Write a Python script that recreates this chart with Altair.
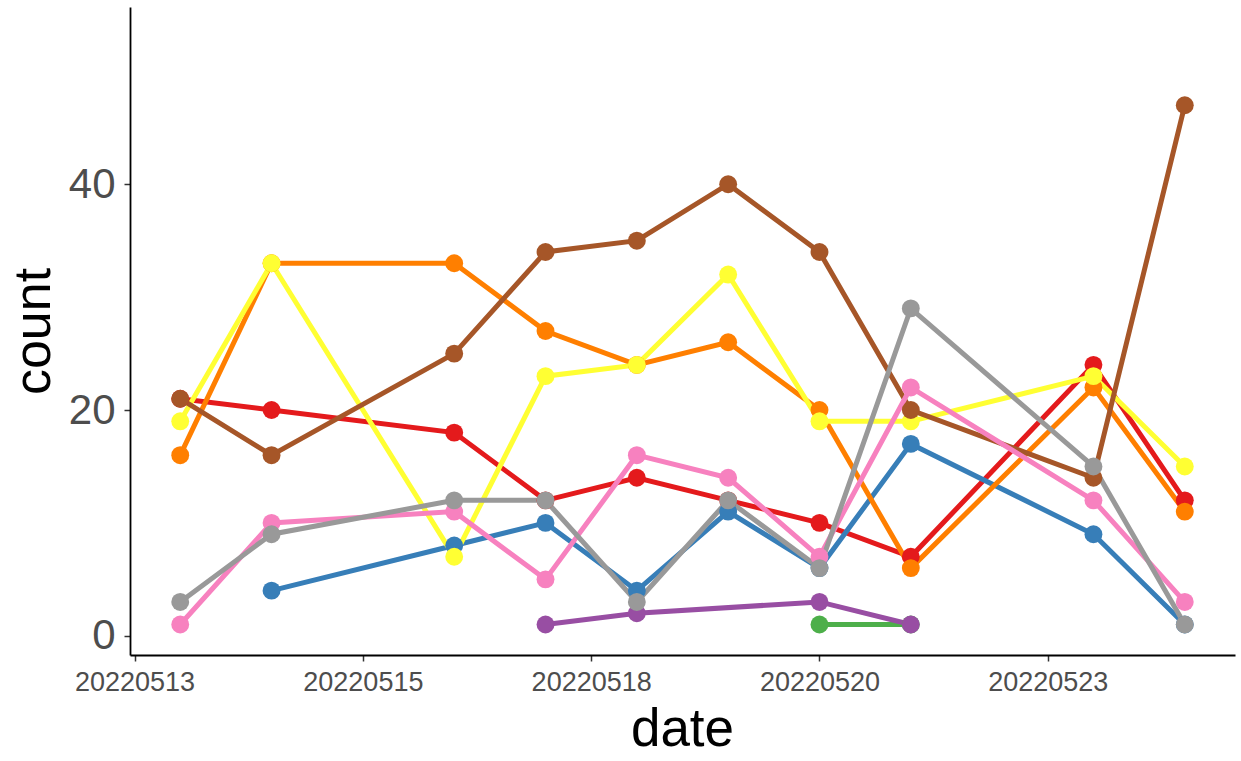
import altair as alt
import pandas as pd

# Dates are stored as plain yyyymmdd numbers and plotted on a linear axis
dates = [20220513, 20220514, 20220516, 20220517, 20220518,
         20220519, 20220520, 20220521, 20220523, 20220524]

groups = ["A", "B", "C", "D", "E", "F", "G", "H", "I"]
colors = ["#E41A1C", "#377EB8", "#4DAF4A", "#984EA3", "#FF7F00",
          "#FFFF33", "#A65628", "#F781BF", "#999999"]

counts_a = [21, 20, 18, 12, 14, 12, 10, 7, 24, 12]
counts_b = [None, 4, 8, 10, 4, 11, 6, 17, 9, 1]
counts_c = [None, None, None, None, None, None, 1, 1, None, None]
counts_d = [None, None, None, 1, 2, None, 3, 1, None, None]
counts_e = [16, 33, 33, 27, 24, 26, 20, 6, 22, 11]
counts_f = [19, 33, 7, 23, 24, 32, 19, 19, 23, 15]
counts_g = [21, 16, 25, 34, 35, 40, 34, 20, 14, 47]
counts_h = [1, 10, 11, 5, 16, 14, 7, 22, 12, 3]
counts_i = [3, 9, 12, 12, 3, 12, 6, 29, 15, 1]

x_ticks = [20220512.5, 20220515, 20220517.5, 20220520, 20220522.5]
y_ticks = [0, 20, 40]

series = [counts_a, counts_b, counts_c, counts_d, counts_e,
          counts_f, counts_g, counts_h, counts_i]

rows = []
for name, values in zip(groups, series):
    for d, v in zip(dates, values):
        if v is not None:
            rows.append({"group": name, "date": d, "count": v})
df = pd.DataFrame(rows)

font = "Liberation Sans"

x = alt.X(
    "date:Q",
    scale=alt.Scale(domain=[20220512.45, 20220524.55], nice=False, zero=False),
    axis=alt.Axis(
        values=x_ticks, format=".0f", grid=False,
        title="date", titleFontSize=53, titleFont=font, titleColor="black",
        titleFontWeight="normal", titleX=552, titleY=90,
        titleBaseline="alphabetic", titleAnchor="start", titleAlign="center",
        labelFontSize=27, labelFont=font, labelColor="#4D4D4D",
        labelPadding=8, labelFlush=False, labelOverlap=False,
        tickSize=6, tickColor="#333333", tickWidth=1.5,
        domainColor="black", domainWidth=1.8,
    ),
)
y = alt.Y(
    "count:Q",
    scale=alt.Scale(domain=[-1.7, 55.7], nice=False, zero=False),
    axis=alt.Axis(
        values=y_ticks, grid=False,
        title="count", titleFontSize=52, titleFont=font, titleColor="black",
        titleFontWeight="normal", titleAngle=270, titleX=-97, titleY=324,
        titleBaseline="middle", titleAlign="center", titleAnchor="start",
        labelFontSize=42, labelFont=font, labelColor="#4D4D4D",
        labelPadding=9, labelFlush=False,
        tickSize=6, tickColor="#333333", tickWidth=1.5,
        domainColor="black", domainWidth=1.8,
    ),
)
color = alt.Color("group:N", scale=alt.Scale(domain=groups, range=colors), legend=None)

base = alt.Chart(df)
lines = base.mark_line(strokeWidth=5).encode(x=x, y=y, color=color)
points = base.mark_circle(size=320, opacity=1).encode(x=x, y=y, color=color)

chart = (
    alt.layer(lines, points)
    .properties(
        width=1105,
        height=648,
        autosize=alt.AutoSizeParams(type="none"),
        padding={"left": 130, "top": 7, "right": 6, "bottom": 106},
        background="white",
    )
    .configure_view(stroke=None)
)

chart.save("out.html", embed_options={"renderer": "svg", "actions": False})
